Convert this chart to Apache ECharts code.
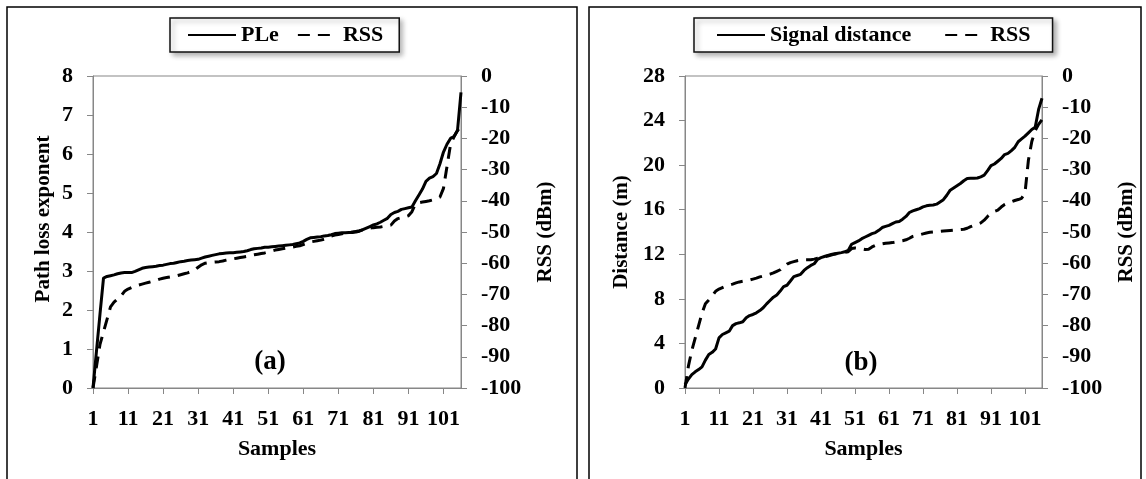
<!DOCTYPE html>
<html>
<head>
<meta charset="utf-8">
<title>PLe / Signal distance vs RSS</title>
<script src="https://cdn.jsdelivr.net/npm/echarts@6/dist/echarts.min.js"></script>
<style>
  html, body { margin: 0; padding: 0; background: #fff; }
  #chart { width: 1146px; height: 479px; }
</style>
</head>
<body>
<div id="chart"></div>
<script>
  // sample numbers 1..106 on the x axis
  var samples = [];
  for (var i = 1; i <= 106; i++) {
    samples.push(String(i));
  }

  // panel (a)
  var pleValues = [
    0, 0.95, 1.9, 2.82, 2.86, 2.88, 2.9, 2.93, 2.95, 2.96,
    2.96, 2.96, 2.99, 3.03, 3.07, 3.09, 3.1, 3.11, 3.12, 3.14,
    3.15, 3.17, 3.19, 3.2, 3.22, 3.24, 3.25, 3.27, 3.28, 3.29,
    3.3, 3.33, 3.36, 3.38, 3.4, 3.42, 3.44, 3.45, 3.46, 3.47,
    3.47, 3.48, 3.49, 3.5, 3.52, 3.55, 3.57, 3.58, 3.59, 3.61,
    3.61, 3.62, 3.63, 3.64, 3.65, 3.66, 3.67, 3.68, 3.7, 3.72,
    3.76, 3.81, 3.85, 3.86, 3.87, 3.88, 3.9, 3.91, 3.93, 3.96,
    3.97, 3.98, 3.98, 3.99, 3.99, 4.0, 4.02, 4.06, 4.1, 4.14,
    4.18, 4.21, 4.25, 4.3, 4.35, 4.45, 4.5, 4.53, 4.58, 4.6,
    4.62, 4.64, 4.8, 4.95, 5.1, 5.3, 5.38, 5.42, 5.5, 5.75,
    6.05, 6.25, 6.4, 6.45, 6.6, 7.58
  ];
  var rssA = [
    -100, -93, -86, -82, -78, -74, -72.5, -71.5, -70.5, -69,
    -68.3, -67.8, -67.3, -67, -66.7, -66.4, -66.1, -65.8, -65.5, -65.1,
    -64.8, -64.6, -64.4, -64.2, -64, -63.7, -63.4, -63.1, -62.7, -62.2,
    -61.3, -60.5, -60, -59.8, -59.7, -59.6, -59.5, -59.3, -59, -58.7,
    -58.6, -58.4, -58.2, -58, -57.8, -57.5, -57.3, -57.1, -56.9, -56.7,
    -56.4, -56.1, -55.8, -55.6, -55.4, -55.2, -55, -54.8, -54.6, -54.4,
    -54, -53.6, -53.2, -53, -52.8, -52.6, -52.3, -51.8, -51.3, -51,
    -50.8, -50.6, -50.4, -50.2, -50, -49.8, -49.6, -49.3, -49, -48.8,
    -48.6, -48.5, -48.4, -48.2, -48, -47.8, -46.5, -45.7, -45.4, -45.2,
    -44.8, -43.5, -41, -40.6, -40.4, -40.2, -40, -39.7, -39.3, -38.8,
    -36, -29, -22, -19.5, -17.5, -16
  ];

  // panel (b)
  var distValues = [
    0.3, 0.8, 1.2, 1.45, 1.65, 1.9, 2.5, 3.0, 3.2, 3.5,
    4.5, 4.8, 4.95, 5.1, 5.6, 5.78, 5.85, 5.95, 6.3, 6.5,
    6.6, 6.75, 6.95, 7.2, 7.55, 7.85, 8.15, 8.35, 8.7, 9.1,
    9.22, 9.6, 10.0, 10.1, 10.2, 10.55, 10.8, 11.0, 11.15, 11.55,
    11.7, 11.8, 11.9, 11.98, 12.05, 12.1, 12.15, 12.22, 12.35, 12.9,
    13.05, 13.2, 13.4, 13.55, 13.7, 13.85, 13.95, 14.15, 14.4, 14.5,
    14.6, 14.75, 14.9, 14.95, 15.15, 15.4, 15.75, 15.9, 16.0, 16.1,
    16.25, 16.35, 16.4, 16.42, 16.5, 16.7, 16.9, 17.3, 17.75, 17.95,
    18.15, 18.35, 18.6, 18.8, 18.82, 18.82, 18.85, 18.95, 19.1, 19.5,
    19.95, 20.1, 20.35, 20.6, 20.95, 21.05, 21.3, 21.6, 22.1, 22.35,
    22.6, 22.9, 23.2, 23.4, 25.0, 26.0
  ];
  var rssB = [
    -100, -93, -88, -84, -80, -76, -73, -71.8, -70.5, -69,
    -68.3, -67.8, -67.3, -67, -66.7, -66.3, -66, -65.8, -65.6, -65.4,
    -65.1, -64.8, -64.4, -64.1, -63.8, -63.5, -63.1, -62.6, -62.1, -61.2,
    -60.3, -59.8, -59.5, -59.2, -59.0, -58.9, -58.9, -58.9, -58.7, -58.4,
    -58.1, -57.9, -57.7, -57.4, -57.1, -56.9, -56.7, -56.5, -56.3, -55.3,
    -55.1, -55.2, -55.4, -55.6, -55.5, -54.8, -54.3, -54.0, -53.8, -53.6,
    -53.5, -53.4, -53.2, -53.0, -52.8, -52.5, -52.0, -51.4, -51.1, -50.9,
    -50.6, -50.3, -50.1, -50.0, -49.9, -49.8, -49.7, -49.6, -49.5, -49.4,
    -49.3, -49.2, -49.1, -48.8, -48.3, -47.9, -47.5, -47.1, -46.2, -45.0,
    -44.1, -43.4, -43.0, -42.0, -41.2, -40.7, -40.3, -39.9, -39.6, -39.2,
    -37.5, -27, -21, -17.5, -15.5, -14
  ];

  var leftTicks = { min: 0, max: 8, interval: 1 };
  var rssTicks = { min: -100, max: 0, interval: 10 };
  var distTicks = { min: 0, max: 28, interval: 4 };

  var font = "'Liberation Serif', 'Times New Roman', serif";
  var axisGray = '#878787';
  var dash = [12, 8];

  var myChart = echarts.init(document.getElementById('chart'));

  function xAxisFor(gridIndex) {
    return {
      type: 'category',
      gridIndex: gridIndex,
      data: samples,
      boundaryGap: false,
      name: 'Samples',
      nameLocation: 'middle',
      nameGap: 50,
      nameTextStyle: { fontFamily: font, fontWeight: 'bold', fontSize: 22, color: '#000' },
      axisLine: { lineStyle: { color: axisGray, width: 1 } },
      axisTick: { interval: 9, length: 6, lineStyle: { color: axisGray } },
      axisLabel: { interval: 9, margin: 20, fontFamily: font, fontWeight: 'bold', fontSize: 22, color: '#000' },
      splitLine: { show: false }
    };
  }

  function yAxisFor(gridIndex, ticks, name, position, nameGap, namePadding) {
    return {
      type: 'value',
      gridIndex: gridIndex,
      position: position,
      min: ticks.min,
      max: ticks.max,
      interval: ticks.interval,
      name: name,
      nameLocation: 'middle',
      nameGap: nameGap,
      nameTextStyle: { fontFamily: font, fontWeight: 'bold', fontSize: 21, color: '#000', padding: namePadding || 0 },
      axisLine: { show: true, lineStyle: { color: axisGray, width: 1 } },
      axisTick: { show: true, length: 6, lineStyle: { color: axisGray } },
      axisLabel: { margin: 20, fontFamily: font, fontWeight: 'bold', fontSize: 22, color: '#000' },
      splitLine: { show: false }
    };
  }

  function lineSeries(name, xi, yi, data, dashed) {
    return {
      name: name,
      type: 'line',
      xAxisIndex: xi,
      yAxisIndex: yi,
      data: data,
      symbol: 'none',
      smooth: false,
      itemStyle: { color: '#000' },
      lineStyle: { color: '#000', width: 3, type: dashed ? dash : 'solid' }
    };
  }

  var legendBase = {
    top: 18,
    itemWidth: 48,
    itemHeight: 14,
    backgroundColor: '#fff',
    borderColor: '#111',
    borderWidth: 1.5,
    borderRadius: 0,
    shadowColor: 'rgba(0, 0, 0, 0.3)',
    shadowBlur: 5,
    shadowOffsetX: 3,
    shadowOffsetY: 3,
    // only the line sample, no marker
    itemStyle: { opacity: 0 },
    textStyle: { fontFamily: font, fontWeight: 'bold', fontSize: 22, color: '#000' },
    selectedMode: false
  };

  var option = {
    animation: false,
    backgroundColor: '#fff',
    legend: [
      Object.assign({}, legendBase, {
        left: 170,
        padding: [6, 16, 6, 17],
        itemGap: 10,
        data: [
          { name: 'PLe' },
          { name: 'RSS', lineStyle: { type: dash, dashOffset: 12 } }
        ]
      }),
      Object.assign({}, legendBase, {
        left: 694,
        padding: [6, 22, 6, 22],
        itemGap: 25,
        data: [
          { name: 'Signal distance' },
          { name: 'RSS', lineStyle: { type: dash, dashOffset: 12 } }
        ]
      })
    ],
    grid: [
      { left: 93, top: 76, width: 368, height: 312, show: true, borderColor: axisGray, borderWidth: 1, containLabel: false },
      { left: 685, top: 76, width: 357, height: 312, show: true, borderColor: axisGray, borderWidth: 1, containLabel: false }
    ],
    xAxis: [xAxisFor(0), xAxisFor(1)],
    yAxis: [
      yAxisFor(0, leftTicks, 'Path loss exponent', 'left', 39, [0, 0, 0, 26]),
      yAxisFor(0, rssTicks, 'RSS (dBm)', 'right', 74),
      yAxisFor(1, distTicks, 'Distance (m)', 'left', 53),
      yAxisFor(1, rssTicks, 'RSS (dBm)', 'right', 74)
    ],
    series: [
      lineSeries('PLe', 0, 0, pleValues, false),
      lineSeries('RSS', 0, 1, rssA, true),
      lineSeries('Signal distance', 1, 2, distValues, false),
      lineSeries('RSS', 1, 3, rssB, true)
    ],
    graphic: [
      // panel frames
      { type: 'rect', shape: { x: 7, y: 7, width: 570, height: 490 }, style: { fill: 'none', stroke: '#000', lineWidth: 1.5 }, z: -1 },
      { type: 'rect', shape: { x: 589, y: 7, width: 552, height: 490 }, style: { fill: 'none', stroke: '#000', lineWidth: 1.5 }, z: -1 },
      // panel tags
      { type: 'text', x: 270, y: 362, style: { text: '(a)', font: 'bold 27px ' + font, fill: '#000', textAlign: 'center', textVerticalAlign: 'middle' } },
      { type: 'text', x: 861, y: 363, style: { text: '(b)', font: 'bold 27px ' + font, fill: '#000', textAlign: 'center', textVerticalAlign: 'middle' } }
    ]
  };

  myChart.setOption(option);
</script>
</body>
</html>
